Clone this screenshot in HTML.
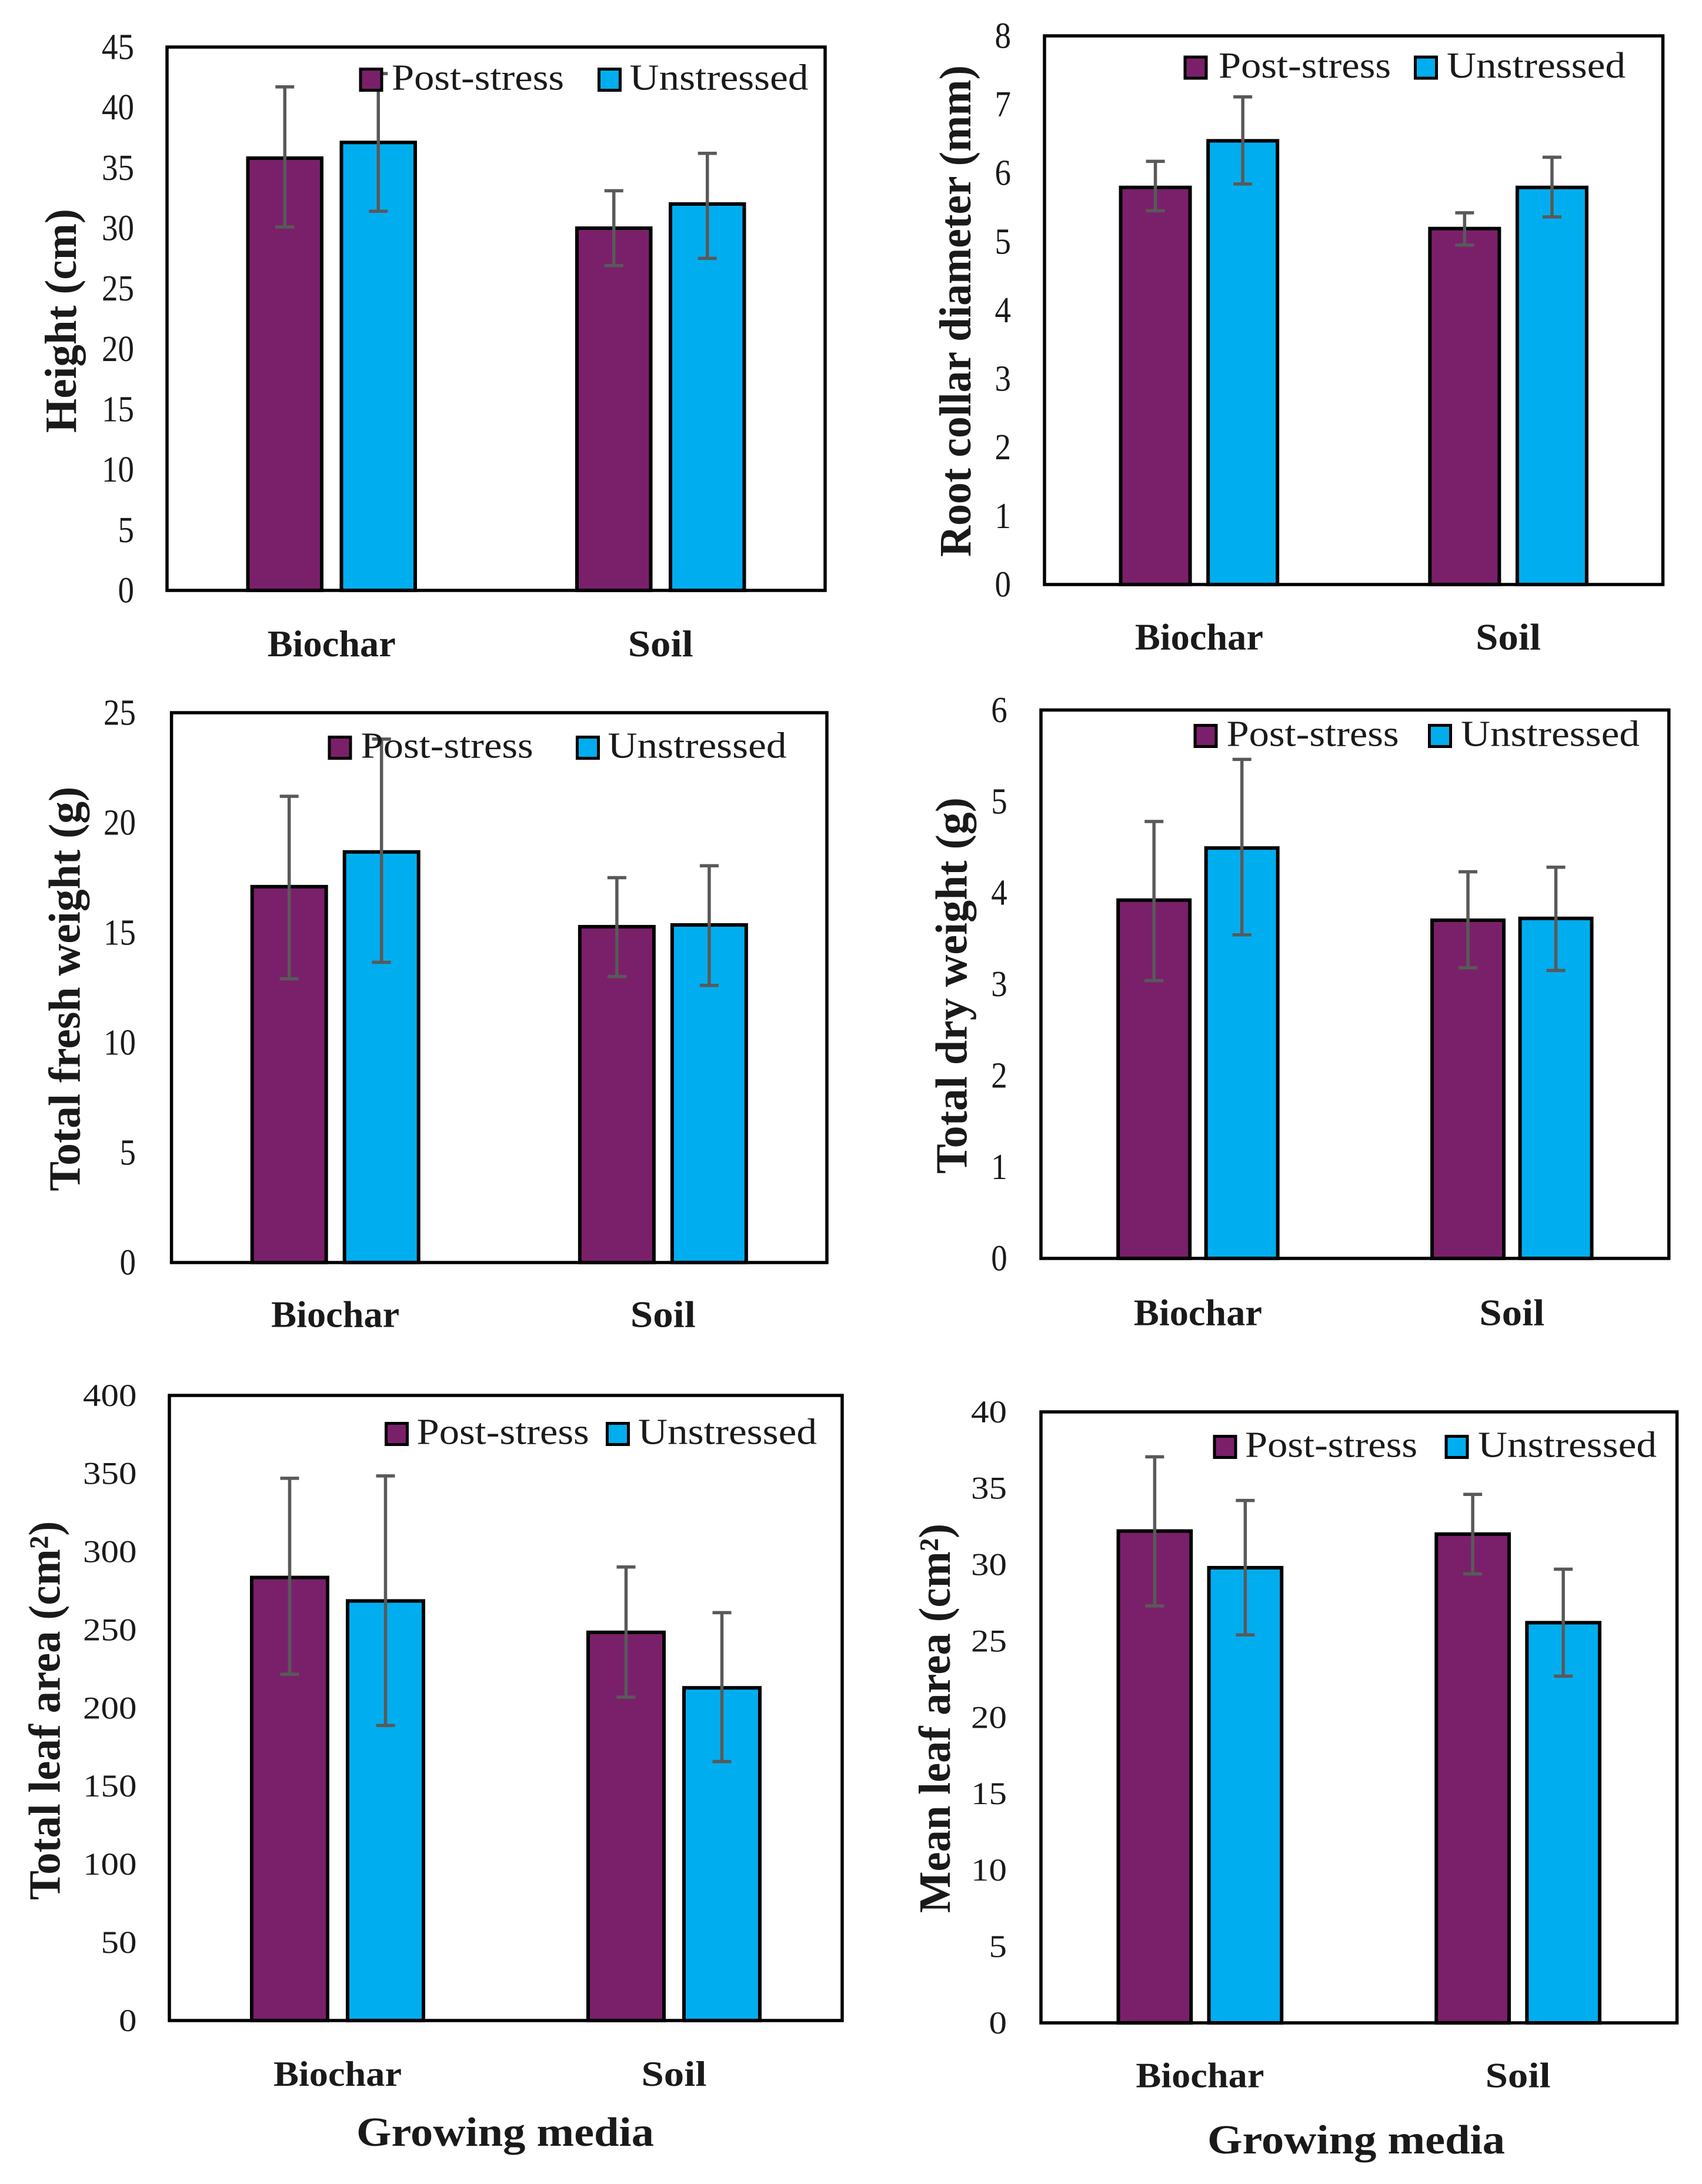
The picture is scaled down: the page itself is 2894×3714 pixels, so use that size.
<!DOCTYPE html>
<html lang="en">
<head>
<meta charset="utf-8">
<title>Growth responses by growing media</title>
<style>
html,body{margin:0;padding:0;background:#fff;}
svg{display:block;}
text{font-family:"Liberation Serif","DejaVu Serif",serif;fill:#1a1a1a;}
</style>
</head>
<body>
<svg id="figure" xmlns="http://www.w3.org/2000/svg" width="2894" height="3714" viewBox="0 0 2894 3714"></svg>
<script>
const categories = ['Biochar', 'Soil'];
const seriesNames = ['Post-stress', 'Unstressed'];

const heightTicks = [0, 5, 10, 15, 20, 25, 30, 35, 40, 45];
const heightPost = [35.8, 30];
const heightUnst = [37.1, 32];
const heightPostHi = [41.7, 33.1];
const heightPostLo = [30.1, 26.9];
const heightUnstHi = [42.8, 36.2];
const heightUnstLo = [31.4, 27.5];

const collarTicks = [0, 1, 2, 3, 4, 5, 6, 7, 8];
const collarPost = [5.79, 5.19];
const collarUnst = [6.47, 5.79];
const collarPostHi = [6.17, 5.42];
const collarPostLo = [5.45, 4.95];
const collarUnstHi = [7.11, 6.23];
const collarUnstLo = [5.84, 5.36];

const freshTicks = [0, 5, 10, 15, 20, 25];
const freshPost = [17.09, 15.27];
const freshUnst = [18.67, 15.35];
const freshPostHi = [21.2, 17.5];
const freshPostLo = [12.9, 13.0];
const freshUnstHi = [23.8, 18.04];
const freshUnstLo = [13.65, 12.6];

const dryTicks = [0, 1, 2, 3, 4, 5, 6];
const dryPost = [3.92, 3.70];
const dryUnst = [4.49, 3.72];
const dryPostHi = [4.78, 4.23];
const dryPostLo = [3.04, 3.18];
const dryUnstHi = [5.46, 4.28];
const dryUnstLo = [3.54, 3.15];

const totalLeafTicks = [0, 50, 100, 150, 200, 250, 300, 350, 400];
const totalLeafPost = [283.5, 248.4];
const totalLeafUnst = [268.5, 212.9];
const totalLeafPostHi = [347, 290.2];
const totalLeafPostLo = [221.6, 206.9];
const totalLeafUnstHi = [348.5, 261];
const totalLeafUnstLo = [188.8, 165.7];

const meanLeafTicks = [0, 5, 10, 15, 20, 25, 30, 35, 40];
const meanLeafPost = [32.2, 32];
const meanLeafUnst = [29.8, 26.2];
const meanLeafPostHi = [37.06, 34.6];
const meanLeafPostLo = [27.3, 29.4];
const meanLeafUnstHi = [34.2, 29.7];
const meanLeafUnstLo = [25.4, 22.7];

const COLORS = ['#7a206a', '#00aeef'];
const NS = 'http://www.w3.org/2000/svg';
const root = document.getElementById('figure');

function make(tag, attrs, parent, content) {
  const el = document.createElementNS(NS, tag);
  for (const k in attrs) el.setAttribute(k, attrs[k]);
  if (content !== undefined) el.textContent = content;
  parent.appendChild(el);
  return el;
}

function drawPanel(p) {
  const g = make('g', {}, root);
  
  

  const maxV = p.ticks[p.ticks.length - 1];
  const yScale = v => p.b - (v / maxV) * (p.b - p.t);
  const xCenter = i => p.l + (p.r - p.l) * (i + 0.5) / categories.length;
  const barX = (i, s) => xCenter(i) + (s - 0.5) * p.sep;

  const plotBg = make('rect', {x: p.l, y: p.t, width: p.r - p.l, height: p.b - p.t, fill: '#fff', stroke: 'none'}, g);
  
  

  p.ticks.forEach(t => {
    const lab = make('text', {
      x: p.tickX, y: yScale(t) + p.tickFont * 0.33, 'text-anchor': 'end', 'font-size': p.tickFont,
      textLength: String(t).length * p.tickStretch, lengthAdjust: 'spacingAndGlyphs'
    }, g, String(t));
    
    
  });

  const series = [p.post, p.unst];
  const highs = [p.postHi, p.unstHi];
  const lows = [p.postLo, p.unstLo];

  categories.forEach((cat, i) => {
    series.forEach((vals, s) => {
      const cx = barX(i, s);
      const bar = make('rect', {
        x: cx - p.barW / 2, y: yScale(vals[i]), width: p.barW, height: p.b - yScale(vals[i]),
        fill: COLORS[s], stroke: '#000', 'stroke-width': 6
      }, g);
      
      
    });
  });

  const frame = make('rect', {x: p.l, y: p.t, width: p.r - p.l, height: p.b - p.t, fill: 'none', stroke: '#000', 'stroke-width': 5.5}, g);
  
  

  categories.forEach((cat, i) => {
    series.forEach((vals, s) => {
      const cx = barX(i, s);
      const yHi = yScale(highs[s][i]);
      const yLo = yScale(lows[s][i]);
      const err = make('g', {stroke: '#595959', 'stroke-width': 5.5, fill: 'none'}, g);
      
      
      make('line', {x1: cx, x2: cx, y1: yHi, y2: yLo}, err);
      make('line', {x1: cx - 16, x2: cx + 16, y1: yHi, y2: yHi}, err);
      make('line', {x1: cx - 16, x2: cx + 16, y1: yLo, y2: yLo}, err);
    });

    const catLab = make('text', {
      x: xCenter(i), y: p.catY, 'text-anchor': 'middle', 'font-size': p.catFont, 'font-weight': 'bold',
      textLength: cat === 'Biochar' ? 218 : 111, lengthAdjust: 'spacingAndGlyphs'
    }, g, cat);
    
    
  });

  const titleX = p.titleX;
  const titleY = (p.titleTop + p.titleBottom) / 2;
  const yTitle = make('text', {
    x: titleX, y: titleY, 'text-anchor': 'middle', 'font-size': 76, 'font-weight': 'bold',
    transform: 'rotate(-90 ' + titleX + ' ' + titleY + ')',
    textLength: p.titleBottom - p.titleTop, lengthAdjust: 'spacingAndGlyphs'
  }, g, p.title);
  
  

  seriesNames.forEach((name, s) => {
    const leg = make('g', {}, g);
    
    
    const swatch = make('rect', {
      x: p.legX[s], y: p.legY, width: 36, height: 36,
      fill: COLORS[s], stroke: '#000', 'stroke-width': 5
    }, leg);
    
    
    const legText = make('text', {
      x: p.legText[s], y: p.legY + 35, 'font-size': 62,
      textLength: s === 0 ? 293 : 304, lengthAdjust: 'spacingAndGlyphs'
    }, leg, name);
    
    
  });

  if (p.xTitleY) {
    const xTitle = make('text', {
      x: p.xTitleL + 253, y: p.xTitleY, 'text-anchor': 'middle', 'font-size': 70, 'font-weight': 'bold',
      textLength: 506, lengthAdjust: 'spacingAndGlyphs'
    }, g, 'Growing media');
    
    
  }
}

drawPanel({
  id: 'height', title: 'Height (cm)', ticks: heightTicks,
  post: heightPost, unst: heightUnst, postHi: heightPostHi, postLo: heightPostLo, unstHi: heightUnstHi, unstLo: heightUnstLo,
  l: 284, r: 1403, t: 80, b: 1004, barW: 125.5, sep: 159, tickX: 228, tickFont: 62, tickStretch: 27.5, catY: 1116, catFont: 64,
  titleX: 129, titleTop: 355, titleBottom: 736,
  legX: [613, 1018.5], legText: [666, 1070.5], legY: 117.5
});

drawPanel({
  id: 'root-collar', title: 'Root collar diameter (mm)', ticks: collarTicks,
  post: collarPost, unst: collarUnst, postHi: collarPostHi, postLo: collarPostLo, unstHi: collarUnstHi, unstLo: collarUnstLo,
  l: 1776, r: 2827.5, t: 61, b: 994, barW: 118, sep: 148.6, tickX: 1719, tickFont: 62, tickStretch: 27.5, catY: 1104.5, catFont: 64,
  titleX: 1650, titleTop: 111, titleBottom: 947,
  legX: [2015, 2406.5], legText: [2072, 2460], legY: 97
});

drawPanel({
  id: 'fresh-weight', title: 'Total fresh weight (g)', ticks: freshTicks,
  post: freshPost, unst: freshUnst, postHi: freshPostHi, postLo: freshPostLo, unstHi: freshUnstHi, unstLo: freshUnstLo,
  l: 291.6, r: 1406, t: 1212, b: 2147, barW: 126, sep: 157, tickX: 231, tickFont: 62, tickStretch: 27.5, catY: 2256.5, catFont: 64,
  titleX: 135.6, titleTop: 1337.6, titleBottom: 2025.6,
  legX: [560, 981.5], legText: [613.7, 1033.5], legY: 1253.5
});

drawPanel({
  id: 'dry-weight', title: 'Total dry weight (g)', ticks: dryTicks,
  post: dryPost, unst: dryUnst, postHi: dryPostHi, postLo: dryPostLo, unstHi: dryUnstHi, unstLo: dryUnstLo,
  l: 1770, r: 2837.7, t: 1207.4, b: 2140, barW: 122, sep: 149.5, tickX: 1712.8, tickFont: 62, tickStretch: 27.5, catY: 2253.4, catFont: 64,
  titleX: 1643.6, titleTop: 1356, titleBottom: 1996,
  legX: [2032, 2430.5], legText: [2085.6, 2484], legY: 1233.5
});

drawPanel({
  id: 'total-leaf-area', title: 'Total leaf area (cm²)', ticks: totalLeafTicks,
  post: totalLeafPost, unst: totalLeafUnst, postHi: totalLeafPostHi, postLo: totalLeafPostLo, unstHi: totalLeafUnstHi, unstLo: totalLeafUnstLo,
  l: 288, r: 1432, t: 2373, b: 3436, barW: 129, sep: 163, tickX: 232.5, tickFont: 54, tickStretch: 30.5, catY: 3547, catFont: 60,
  titleX: 101.5, titleTop: 2586.7, titleBottom: 3231,
  legX: [656.5, 1032.5], legText: [708.7, 1085], legY: 2420.5,
  xTitleL: 606, xTitleY: 3649
});

drawPanel({
  id: 'mean-leaf-area', title: 'Mean leaf area (cm²)', ticks: meanLeafTicks,
  post: meanLeafPost, unst: meanLeafUnst, postHi: meanLeafPostHi, postLo: meanLeafPostLo, unstHi: meanLeafUnstHi, unstLo: meanLeafUnstLo,
  l: 1770, r: 2851.5, t: 2401, b: 3440, barW: 123.7, sep: 154, tickX: 1712, tickFont: 54, tickStretch: 30.5, catY: 3549.5, catFont: 60,
  titleX: 1615, titleTop: 2591, titleBottom: 3253,
  legX: [2065, 2459], legText: [2117, 2513], legY: 2442.5,
  xTitleL: 2053, xTitleY: 3662
});
</script>
</body>
</html>
